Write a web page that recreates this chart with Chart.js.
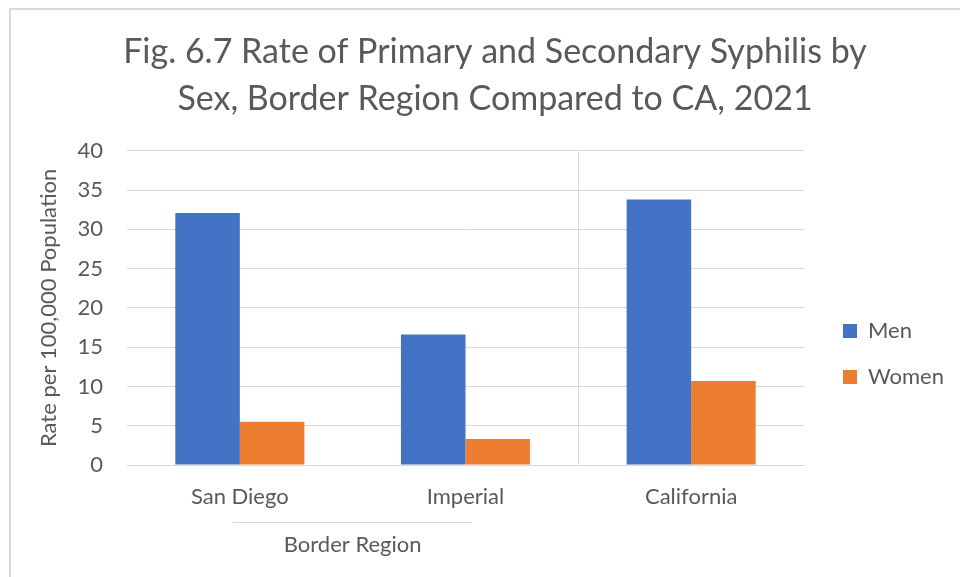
<!DOCTYPE html>
<html>
<head>
<meta charset="utf-8">
<script src="https://cdn.jsdelivr.net/npm/chart.js@4"></script>
<style>
  body { margin: 0; background: #fff; }
  #wrap { position: relative; width: 960px; height: 577px; overflow: hidden; }
  #frame { position: absolute; left: 9px; top: 8px; width: 1000px; height: 600px;
           border-left: 2px solid #d9d9d9; border-top: 2px solid #d9d9d9; pointer-events: none; }
</style>
</head>
<body>
<div id="wrap">
  <canvas id="chartBar" width="960" height="577"></canvas>
  <div id="frame"></div>
</div>
<script>
  "use strict";

  var categories = ["San Diego", "Imperial", "California"];
  var menRates = [32.1, 16.6, 33.8];
  var womenRates = [5.5, 3.3, 10.7];
  var yTicks = [0, 5, 10, 15, 20, 25, 30, 35, 40];
  var groups = [{ label: "Border Region", from: 0, to: 1 }];

  var textColor = "#595959";
  var gridColor = "#d9d9d9";
  var fontFamily = "Lato, 'Open Sans', sans-serif";

  // draws the second level of the category axis (group label + line)
  var groupLabels = {
    id: "groupLabels",
    afterDraw: function (chart) {
      var ctx = chart.ctx;
      var x = chart.scales.x;
      var catW = x.getPixelForValue(1) - x.getPixelForValue(0);
      ctx.save();
      groups.forEach(function (g) {
        var mid = (x.getPixelForValue(g.from) + x.getPixelForValue(g.to)) / 2;
        var half = catW * 0.53;
        ctx.strokeStyle = gridColor;
        ctx.lineWidth = 1;
        ctx.beginPath();
        ctx.moveTo(mid - half, x.top + 57.5);
        ctx.lineTo(mid + half, x.top + 57.5);
        ctx.stroke();
        ctx.fillStyle = textColor;
        ctx.font = "22px " + fontFamily;
        ctx.textAlign = "center";
        ctx.textBaseline = "middle";
        ctx.fillText(g.label, mid, x.top + 80);
      });
      ctx.restore();
    },
  };

  var ctx = document.getElementById("chartBar");
  var myChart = new Chart(ctx, {
    type: "bar",
    data: {
      labels: categories,
      datasets: [
        {
          label: "Men",
          backgroundColor: "#4472c4",
          categoryPercentage: 0.572,
          barPercentage: 1,
          data: menRates,
        },
        {
          label: "Women",
          backgroundColor: "#ed7d31",
          categoryPercentage: 0.572,
          barPercentage: 1,
          data: womenRates,
        },
      ],
    },
    options: {
      responsive: false,
      animation: false,
      layout: { padding: { left: 36, right: 6, top: 0, bottom: 0 } },
      plugins: {
        title: {
          display: true,
          text: [
            "Fig. 6.7 Rate of Primary and Secondary Syphilis by",
            "Sex, Border Region Compared to CA, 2021",
          ],
          color: textColor,
          font: { family: fontFamily, size: 34, weight: "normal", lineHeight: 1.38 },
          padding: { top: 29, bottom: 28 },
        },
        legend: {
          position: "right",
          title: { display: true, text: "", font: { size: 10 }, padding: { top: 119, bottom: 0 } },
          labels: {
            color: textColor,
            font: { family: fontFamily, size: 22 },
            boxWidth: 14,
            boxHeight: 14,
            padding: 24,
          },
        },
        tooltip: { enabled: false },
      },
      scales: {
        x: {
          grid: {
            drawTicks: false,
            color: function (c) {
              return c.index === 2 ? gridColor : "rgba(0,0,0,0)";
            },
          },
          border: { display: true, color: gridColor },
          ticks: {
            color: textColor,
            font: { family: fontFamily, size: 22 },
            padding: 19,
          },
          afterFit: function (s) {
            s.height = 112;
          },
        },
        y: {
          min: 0,
          max: 40,
          afterBuildTicks: function (s) {
            s.ticks = yTicks.map(function (v) {
              return { value: v };
            });
          },
          grid: { color: gridColor, drawTicks: false },
          border: { display: false },
          ticks: {
            color: textColor,
            font: { family: fontFamily, size: 22 },
            padding: 24,
          },
          title: {
            display: true,
            text: "Rate per 100,000 Population",
            color: textColor,
            font: { family: fontFamily, size: 22 },
            padding: 0,
          },
          afterFit: function (s) {
            s.width = 91;
          },
        },
        // empty spacer between plot and legend
        gap: {
          type: "linear",
          position: "right",
          display: true,
          grid: { display: false },
          border: { display: false },
          ticks: { display: false },
          afterFit: function (s) {
            s.width = 15;
          },
        },
      },
    },
    plugins: [groupLabels],
  });
</script>
</body>
</html>
